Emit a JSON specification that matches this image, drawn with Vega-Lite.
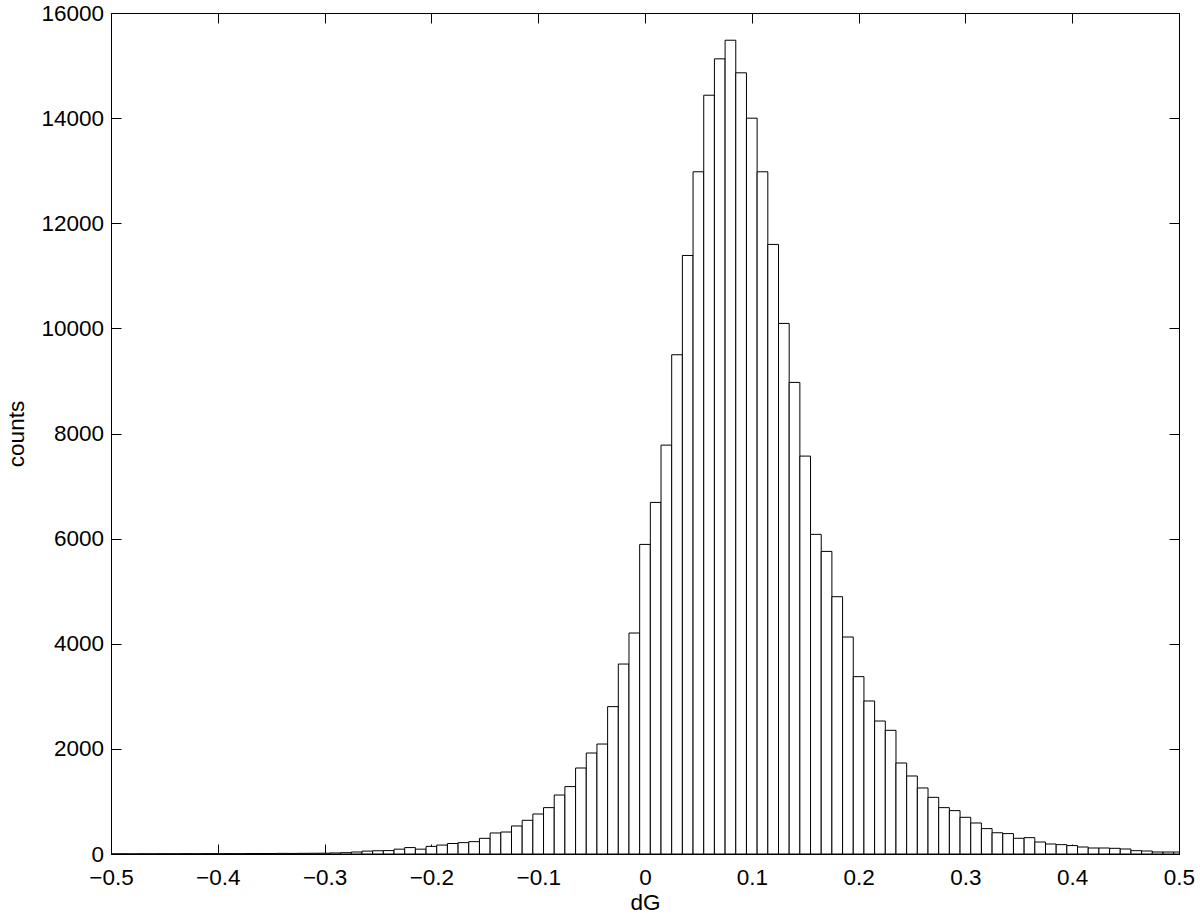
{
  "$schema": "https://vega.github.io/schema/vega-lite/v6.json",
  "width": 1068,
  "height": 841,
  "autosize": {"type": "none"},
  "padding": {"left": 111, "top": 13, "right": 21, "bottom": 60},
  "background": "white",
  "config": {
    "view": {"stroke": "black", "strokeWidth": 1},
    "font": "Liberation Sans",
    "axis": {
      "domain": false,
      "grid": false,
      "tickColor": "black",
      "tickWidth": 1,
      "tickSize": -10,
      "labelColor": "black",
      "labelFont": "Liberation Sans",
      "labelFontSize": 22.5,
      "labelFlush": false,
      "labelOverlap": false,
      "titleColor": "black",
      "titleFont": "Liberation Sans",
      "titleFontSize": 22.5,
      "titleFontWeight": "normal"
    }
  },
  "data": {
    "values": [
      {"lo": -0.505, "hi": -0.495, "count": 2},
      {"lo": -0.495, "hi": -0.485, "count": 3},
      {"lo": -0.485, "hi": -0.475, "count": 2},
      {"lo": -0.475, "hi": -0.465, "count": 4},
      {"lo": -0.465, "hi": -0.455, "count": 3},
      {"lo": -0.455, "hi": -0.445, "count": 5},
      {"lo": -0.445, "hi": -0.435, "count": 4},
      {"lo": -0.435, "hi": -0.425, "count": 6},
      {"lo": -0.425, "hi": -0.415, "count": 5},
      {"lo": -0.415, "hi": -0.405, "count": 7},
      {"lo": -0.405, "hi": -0.395, "count": 6},
      {"lo": -0.395, "hi": -0.385, "count": 8},
      {"lo": -0.385, "hi": -0.375, "count": 7},
      {"lo": -0.375, "hi": -0.365, "count": 9},
      {"lo": -0.365, "hi": -0.355, "count": 10},
      {"lo": -0.355, "hi": -0.345, "count": 9},
      {"lo": -0.345, "hi": -0.335, "count": 12},
      {"lo": -0.335, "hi": -0.325, "count": 11},
      {"lo": -0.325, "hi": -0.315, "count": 13},
      {"lo": -0.315, "hi": -0.305, "count": 14},
      {"lo": -0.305, "hi": -0.295, "count": 15},
      {"lo": -0.295, "hi": -0.285, "count": 20},
      {"lo": -0.285, "hi": -0.275, "count": 25},
      {"lo": -0.275, "hi": -0.265, "count": 38},
      {"lo": -0.265, "hi": -0.255, "count": 55},
      {"lo": -0.255, "hi": -0.245, "count": 62},
      {"lo": -0.245, "hi": -0.235, "count": 65},
      {"lo": -0.235, "hi": -0.225, "count": 92},
      {"lo": -0.225, "hi": -0.215, "count": 122},
      {"lo": -0.215, "hi": -0.205, "count": 92},
      {"lo": -0.205, "hi": -0.195, "count": 145},
      {"lo": -0.195, "hi": -0.185, "count": 170},
      {"lo": -0.185, "hi": -0.175, "count": 200},
      {"lo": -0.175, "hi": -0.165, "count": 216},
      {"lo": -0.165, "hi": -0.155, "count": 235},
      {"lo": -0.155, "hi": -0.145, "count": 298},
      {"lo": -0.145, "hi": -0.135, "count": 400},
      {"lo": -0.135, "hi": -0.125, "count": 418},
      {"lo": -0.125, "hi": -0.115, "count": 533},
      {"lo": -0.115, "hi": -0.105, "count": 641},
      {"lo": -0.105, "hi": -0.095, "count": 761},
      {"lo": -0.095, "hi": -0.085, "count": 882},
      {"lo": -0.085, "hi": -0.075, "count": 1122},
      {"lo": -0.075, "hi": -0.065, "count": 1282},
      {"lo": -0.065, "hi": -0.055, "count": 1636},
      {"lo": -0.055, "hi": -0.045, "count": 1921},
      {"lo": -0.045, "hi": -0.035, "count": 2092},
      {"lo": -0.035, "hi": -0.025, "count": 2804},
      {"lo": -0.025, "hi": -0.015, "count": 3614},
      {"lo": -0.015, "hi": -0.005, "count": 4204},
      {"lo": -0.005, "hi": 0.005, "count": 5890},
      {"lo": 0.005, "hi": 0.015, "count": 6689},
      {"lo": 0.015, "hi": 0.025, "count": 7779},
      {"lo": 0.025, "hi": 0.035, "count": 9498},
      {"lo": 0.035, "hi": 0.045, "count": 11387},
      {"lo": 0.045, "hi": 0.055, "count": 12979},
      {"lo": 0.055, "hi": 0.065, "count": 14436},
      {"lo": 0.065, "hi": 0.075, "count": 15128},
      {"lo": 0.075, "hi": 0.085, "count": 15482},
      {"lo": 0.085, "hi": 0.095, "count": 14862},
      {"lo": 0.095, "hi": 0.105, "count": 13999},
      {"lo": 0.105, "hi": 0.115, "count": 12979},
      {"lo": 0.115, "hi": 0.125, "count": 11597},
      {"lo": 0.125, "hi": 0.135, "count": 10094},
      {"lo": 0.135, "hi": 0.145, "count": 8972},
      {"lo": 0.145, "hi": 0.155, "count": 7570},
      {"lo": 0.155, "hi": 0.165, "count": 6081},
      {"lo": 0.165, "hi": 0.175, "count": 5757},
      {"lo": 0.175, "hi": 0.185, "count": 4895},
      {"lo": 0.185, "hi": 0.195, "count": 4128},
      {"lo": 0.195, "hi": 0.205, "count": 3374},
      {"lo": 0.205, "hi": 0.215, "count": 2911},
      {"lo": 0.215, "hi": 0.225, "count": 2530},
      {"lo": 0.225, "hi": 0.235, "count": 2353},
      {"lo": 0.235, "hi": 0.245, "count": 1731},
      {"lo": 0.245, "hi": 0.255, "count": 1484},
      {"lo": 0.255, "hi": 0.265, "count": 1256},
      {"lo": 0.265, "hi": 0.275, "count": 1078},
      {"lo": 0.275, "hi": 0.285, "count": 882},
      {"lo": 0.285, "hi": 0.295, "count": 825},
      {"lo": 0.295, "hi": 0.305, "count": 698},
      {"lo": 0.305, "hi": 0.315, "count": 590},
      {"lo": 0.315, "hi": 0.325, "count": 483},
      {"lo": 0.325, "hi": 0.335, "count": 404},
      {"lo": 0.335, "hi": 0.345, "count": 388},
      {"lo": 0.345, "hi": 0.355, "count": 299},
      {"lo": 0.355, "hi": 0.365, "count": 311},
      {"lo": 0.365, "hi": 0.375, "count": 228},
      {"lo": 0.375, "hi": 0.385, "count": 190},
      {"lo": 0.385, "hi": 0.395, "count": 178},
      {"lo": 0.395, "hi": 0.405, "count": 160},
      {"lo": 0.405, "hi": 0.415, "count": 133},
      {"lo": 0.415, "hi": 0.425, "count": 114},
      {"lo": 0.425, "hi": 0.435, "count": 114},
      {"lo": 0.435, "hi": 0.445, "count": 108},
      {"lo": 0.445, "hi": 0.455, "count": 95},
      {"lo": 0.455, "hi": 0.465, "count": 63},
      {"lo": 0.465, "hi": 0.475, "count": 57},
      {"lo": 0.475, "hi": 0.485, "count": 38},
      {"lo": 0.485, "hi": 0.495, "count": 38},
      {"lo": 0.495, "hi": 0.505, "count": 38}
    ]
  },
  "layer": [
    {
      "mark": {"type": "bar", "fill": "white", "stroke": "black", "strokeWidth": 1, "clip": true},
      "encoding": {
        "x": {
          "field": "lo",
          "type": "quantitative",
          "scale": {"domain": [-0.5, 0.5], "nice": false, "zero": false},
          "axis": {
            "orient": "bottom",
            "values": [-0.5, -0.4, -0.3, -0.2, -0.1, 0, 0.1, 0.2, 0.3, 0.4, 0.5],
            "labelExpr": "abs(datum.value) < 1e-9 ? '0' : format(datum.value, '.1f')",
            "labelPadding": 22,
            "title": "dG",
            "titleX": 534,
            "titleY": 55,
            "titleAlign": "center",
            "titleBaseline": "alphabetic"
          }
        },
        "x2": {"field": "hi"},
        "y": {
          "field": "count",
          "type": "quantitative",
          "scale": {"domain": [0, 16000], "nice": false},
          "axis": {
            "orient": "left",
            "values": [0, 2000, 4000, 6000, 8000, 10000, 12000, 14000, 16000],
            "format": "d",
            "labelPadding": 17.5,
            "title": "counts",
            "titleAngle": -90,
            "titleX": -88,
            "titleY": 420.5,
            "titleAlign": "center",
            "titleBaseline": "alphabetic"
          }
        },
        "y2": {"datum": 0}
      }
    },
    {
      "mark": {"type": "bar", "opacity": 0, "clip": true},
      "encoding": {
        "x": {
          "field": "lo",
          "type": "quantitative",
          "scale": {"domain": [-0.5, 0.5], "nice": false, "zero": false},
          "axis": {
            "orient": "top",
            "values": [-0.5, -0.4, -0.3, -0.2, -0.1, 0, 0.1, 0.2, 0.3, 0.4, 0.5],
            "labels": false,
            "title": null
          }
        },
        "x2": {"field": "hi"},
        "y": {
          "field": "count",
          "type": "quantitative",
          "scale": {"domain": [0, 16000], "nice": false},
          "axis": {
            "orient": "right",
            "values": [0, 2000, 4000, 6000, 8000, 10000, 12000, 14000, 16000],
            "labels": false,
            "title": null
          }
        },
        "y2": {"datum": 0}
      }
    }
  ],
  "resolve": {"axis": {"x": "independent", "y": "independent"}}
}
